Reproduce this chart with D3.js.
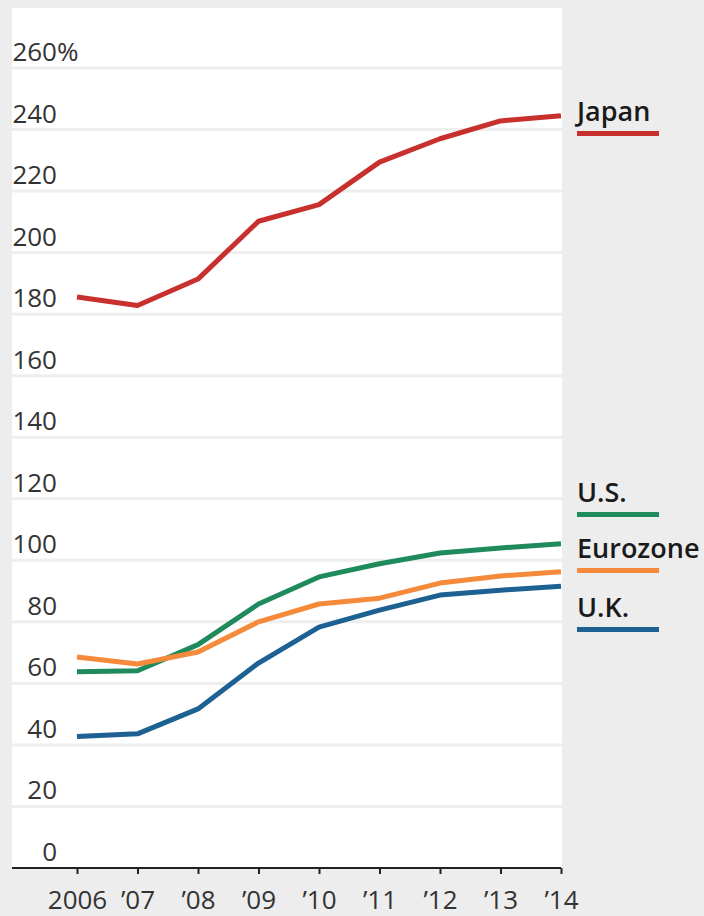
<!DOCTYPE html>
<html>
<head>
<meta charset="utf-8">
<script src="https://cdn.jsdelivr.net/npm/d3@7"></script>
<style>
  html, body { margin: 0; padding: 0; background: #ededed; }
  svg { display: block; font-family: "Open Sans", "Noto Sans", sans-serif; }
</style>
</head>
<body>
<svg id="chart" width="704" height="916"></svg>
<script>
// Government debt as a share of GDP, 2006–2014
const years = [2006, 2007, 2008, 2009, 2010, 2011, 2012, 2013, 2014];
const yearLabels = ["2006", "\u201907", "\u201908", "\u201909", "\u201910", "\u201911", "\u201912", "\u201913", "\u201914"];
const yTicks = [0, 20, 40, 60, 80, 100, 120, 140, 160, 180, 200, 220, 240, 260];

const japan    = [185.6, 182.8, 191.4, 210.2, 215.6, 229.4, 237.0, 242.8, 244.5];
const us       = [63.8, 64.1, 72.6, 85.8, 94.6, 98.9, 102.4, 104.0, 105.4];
const eurozone = [68.6, 66.3, 70.2, 80.0, 85.8, 87.7, 92.6, 94.9, 96.3];
const uk       = [42.7, 43.6, 51.7, 66.6, 78.3, 83.8, 88.7, 90.3, 91.6];

const seriesNames  = ["Japan", "U.S.", "Eurozone", "U.K."];
const seriesValues = [japan, us, eurozone, uk];
const seriesColors = ["#c8302e", "#1f8a5c", "#f58a3b", "#1d6192"];
// baseline of each end label, in pixels
const labelBaselines = [121, 502, 558, 617];

const svg = d3.select("#chart");
const panel = { left: 12, right: 562, top: 8, bottom: 868 };

const x = d3.scalePoint().domain(years).range([77, 561]);
const y = d3.scaleLinear().domain([0, 260]).range([panel.bottom, 68]);

// white plotting panel
svg.append("rect")
  .attr("x", panel.left).attr("y", panel.top)
  .attr("width", panel.right - panel.left).attr("height", panel.bottom - panel.top)
  .attr("fill", "#ffffff");

// horizontal gridlines
svg.append("g").selectAll("line")
  .data(yTicks.filter(d => d > 0))
  .join("line")
  .attr("x1", panel.left).attr("x2", panel.right)
  .attr("y1", d => y(d)).attr("y2", d => y(d))
  .attr("stroke", "#eeeeee").attr("stroke-width", 3);

// y tick labels, right-aligned, with a % sign on the top one
const yl = svg.append("g").attr("font-size", 26).attr("fill", "#333");
yl.selectAll("text.num")
  .data(yTicks)
  .join("text")
  .attr("class", "num")
  .attr("x", 57).attr("y", d => y(d) - 7)
  .attr("text-anchor", "end")
  .text(d => d);
yl.append("text")
  .attr("x", 57).attr("y", y(d3.max(yTicks)) - 7)
  .text("%");

// x axis
const xAxis = d3.axisBottom(x)
  .tickSize(6)
  .tickFormat((d, i) => yearLabels[i]);
const gx = svg.append("g")
  .attr("transform", `translate(0,${panel.bottom})`)
  .call(xAxis);
gx.select(".domain").remove();
gx.append("line")
  .attr("x1", panel.left).attr("x2", 561)
  .attr("stroke", "#222").attr("stroke-width", 2);
gx.selectAll(".tick line").attr("stroke", "#222").attr("stroke-width", 2);
gx.selectAll(".tick text")
  .attr("font-size", 26)
  .attr("font-family", "\"Open Sans\", sans-serif")
  .attr("fill", "#333")
  .attr("dy", 0)
  .attr("y", 41);

// series lines
const line = d3.line()
  .x((d, i) => x(years[i]))
  .y(d => y(d));

svg.append("g").selectAll("path")
  .data(seriesValues)
  .join("path")
  .attr("d", line)
  .attr("fill", "none")
  .attr("stroke", (d, i) => seriesColors[i])
  .attr("stroke-width", 5)
  .attr("stroke-linejoin", "round");

// end labels with coloured underline
const lg = svg.append("g").selectAll("g")
  .data(seriesNames)
  .join("g")
  .attr("transform", (d, i) => `translate(577,${labelBaselines[i]})`);
lg.append("text")
  .attr("font-size", 27)
  .attr("font-weight", 600)
  .attr("fill", "#1a1a1a")
  .text(d => d);
lg.append("rect")
  .attr("x", 0).attr("y", 10)
  .attr("width", 82).attr("height", 5)
  .attr("fill", (d, i) => seriesColors[i]);
</script>
</body>
</html>
